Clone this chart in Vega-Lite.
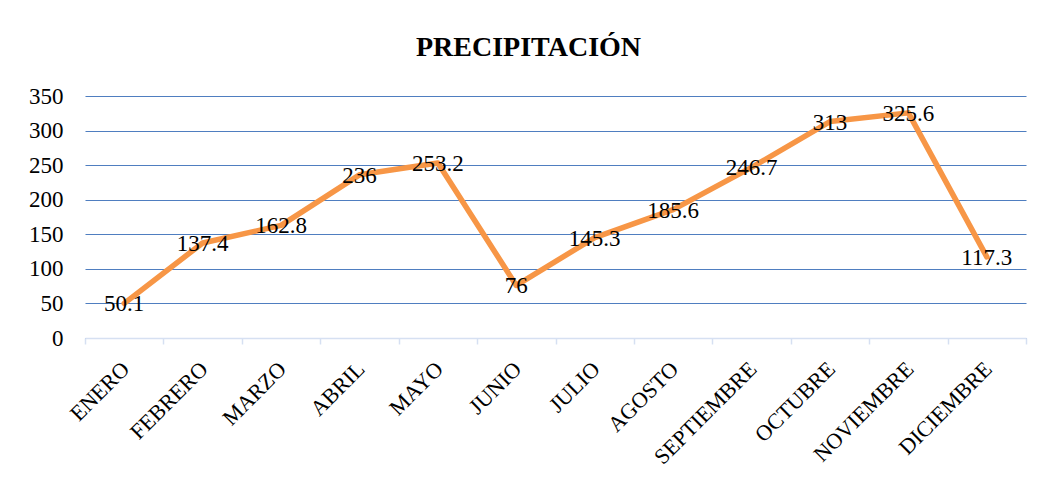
{
  "$schema": "https://vega.github.io/schema/vega-lite/v6.json",
  "width": 941,
  "height": 242,
  "autosize": {"type": "none"},
  "padding": {"left": 85, "top": 96, "right": 16, "bottom": 145},
  "background": "white",
  "title": {
    "text": "PRECIPITACIÓN",
    "font": "Liberation Serif",
    "fontSize": 28,
    "fontWeight": "bold",
    "color": "#000000",
    "anchor": "middle",
    "dx": -27,
    "offset": 23
  },
  "data": {
    "values": [
      {"mes": "ENERO", "valor": 50.1},
      {"mes": "FEBRERO", "valor": 137.4},
      {"mes": "MARZO", "valor": 162.8},
      {"mes": "ABRIL", "valor": 236},
      {"mes": "MAYO", "valor": 253.2},
      {"mes": "JUNIO", "valor": 76},
      {"mes": "JULIO", "valor": 145.3},
      {"mes": "AGOSTO", "valor": 185.6},
      {"mes": "SEPTIEMBRE", "valor": 246.7},
      {"mes": "OCTUBRE", "valor": 313},
      {"mes": "NOVIEMBRE", "valor": 325.6},
      {"mes": "DICIEMBRE", "valor": 117.3}
    ]
  },
  "encoding": {
    "x": {
      "field": "mes",
      "type": "nominal",
      "sort": null,
      "scale": {"paddingInner": 0, "paddingOuter": 0},
      "axis": {
        "title": null,
        "labelAngle": -45,
        "labelFont": "Liberation Serif",
        "labelFontSize": 22,
        "labelColor": "#000000",
        "labelPadding": 14,
        "labelOffset": -6,
        "domainColor": "#D6E0F2",
        "domainWidth": 1.5,
        "tickColor": "#D6E0F2",
        "tickWidth": 1.5,
        "tickSize": 6,
        "tickBand": "extent",
        "grid": false
      }
    },
    "y": {
      "field": "valor",
      "type": "quantitative",
      "scale": {"domain": [0, 350], "nice": false},
      "axis": {
        "title": null,
        "values": [0, 50, 100, 150, 200, 250, 300, 350],
        "labelFont": "Liberation Serif",
        "labelFontSize": 23,
        "labelColor": "#000000",
        "labelPadding": 22,
        "domain": false,
        "ticks": false,
        "grid": true,
        "gridColor": "#4F7EC0",
        "gridWidth": 1.2
      }
    }
  },
  "layer": [
    {
      "mark": {"type": "line", "color": "#F79646", "strokeWidth": 5.5, "strokeJoin": "round", "strokeCap": "round"}
    },
    {
      "mark": {
        "type": "text",
        "font": "Liberation Serif",
        "fontSize": 23,
        "color": "#000000",
        "align": "center",
        "baseline": "middle",
        "dy": 1
      },
      "encoding": {"text": {"field": "valor", "type": "quantitative"}}
    }
  ],
  "config": {"view": {"stroke": null}}
}
